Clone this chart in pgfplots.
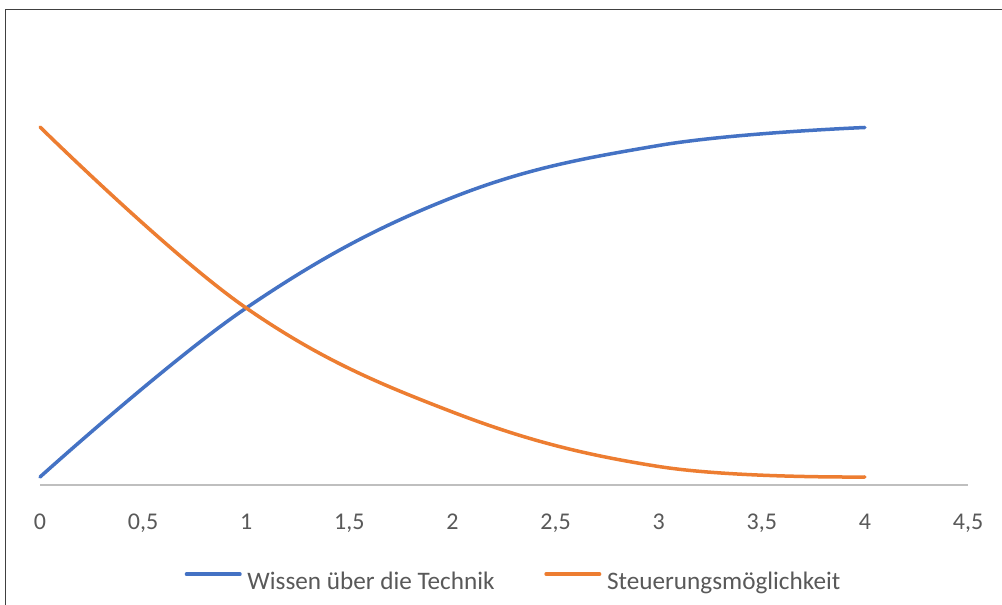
\documentclass[border=0pt]{standalone}
\usepackage{fontspec}
\setmainfont{Carlito}
\usepackage{pgfplots}
\pgfplotsset{compat=1.18}
\definecolor{xlblue}{HTML}{4472C4}
\definecolor{xlorange}{HTML}{ED7D31}
\definecolor{xltext}{HTML}{595959}
\definecolor{xlaxis}{HTML}{BFBFBF}
\definecolor{xlborder}{HTML}{404040}
\begin{document}
\begin{tikzpicture}[x=1pt,y=1pt]
\path[use as bounding box,fill=white] (0,0) rectangle (1002,605);
\draw[xlborder,line width=1.5pt] (5.5,0) -- (5.5,595.5) -- (1002,595.5);
\begin{axis}[
  at={(40pt,119.5pt)}, anchor=south west,
  scale only axis, width=928pt, height=465pt,
  xmin=0, xmax=4.5, ymin=0, ymax=465,
  axis y line=none,
  axis x line*=bottom,
  x axis line style={xlaxis, line width=2pt, -},
  xtick={0,0.5,...,4.5},
  major tick length=0pt,
  /pgf/number format/use comma,
  /pgf/number format/assume math mode=true,
  xticklabel style={font=\fontsize{24}{28}\selectfont, text=xltext, inner sep=0pt, anchor=north, yshift=-28pt},
  clip=false,
  legend columns=2,
  legend style={draw=none, fill=none, inner sep=0pt, outer sep=0pt,
    at={(0.15409,-0.2069)}, anchor=base west,
    font=\fontsize{25.2}{29}\selectfont, text=xltext,
    nodes={inner sep=0pt},
    /tikz/every even column/.append style={column sep=0pt},
    /tikz/every odd column/.append style={column sep=4pt}},
  legend cell align=left,
  legend image code/.code={\path (0pt,7.5pt) (57pt,7.5pt); \draw[#1, line width=3.5pt, line cap=round] (1.75pt,7.5pt) -- (55.25pt,7.5pt);},
]
\addplot[xlblue, line width=3.5pt, smooth, tension=0.65, line cap=round] coordinates {
(0,8.5) (1,177.5) (2,288) (3,340) (4,358)};
\addlegendentry{Wissen über die Technik\hspace*{48pt}}
\addplot[xlorange, line width=3.5pt, smooth, tension=0.65, line cap=round] coordinates {
(0,358.5) (1,177.5) (2,73.5) (3,19) (4,8.5)};
\addlegendentry{Steuerungsmöglichkeit}
\end{axis}
\end{tikzpicture}
\end{document}
